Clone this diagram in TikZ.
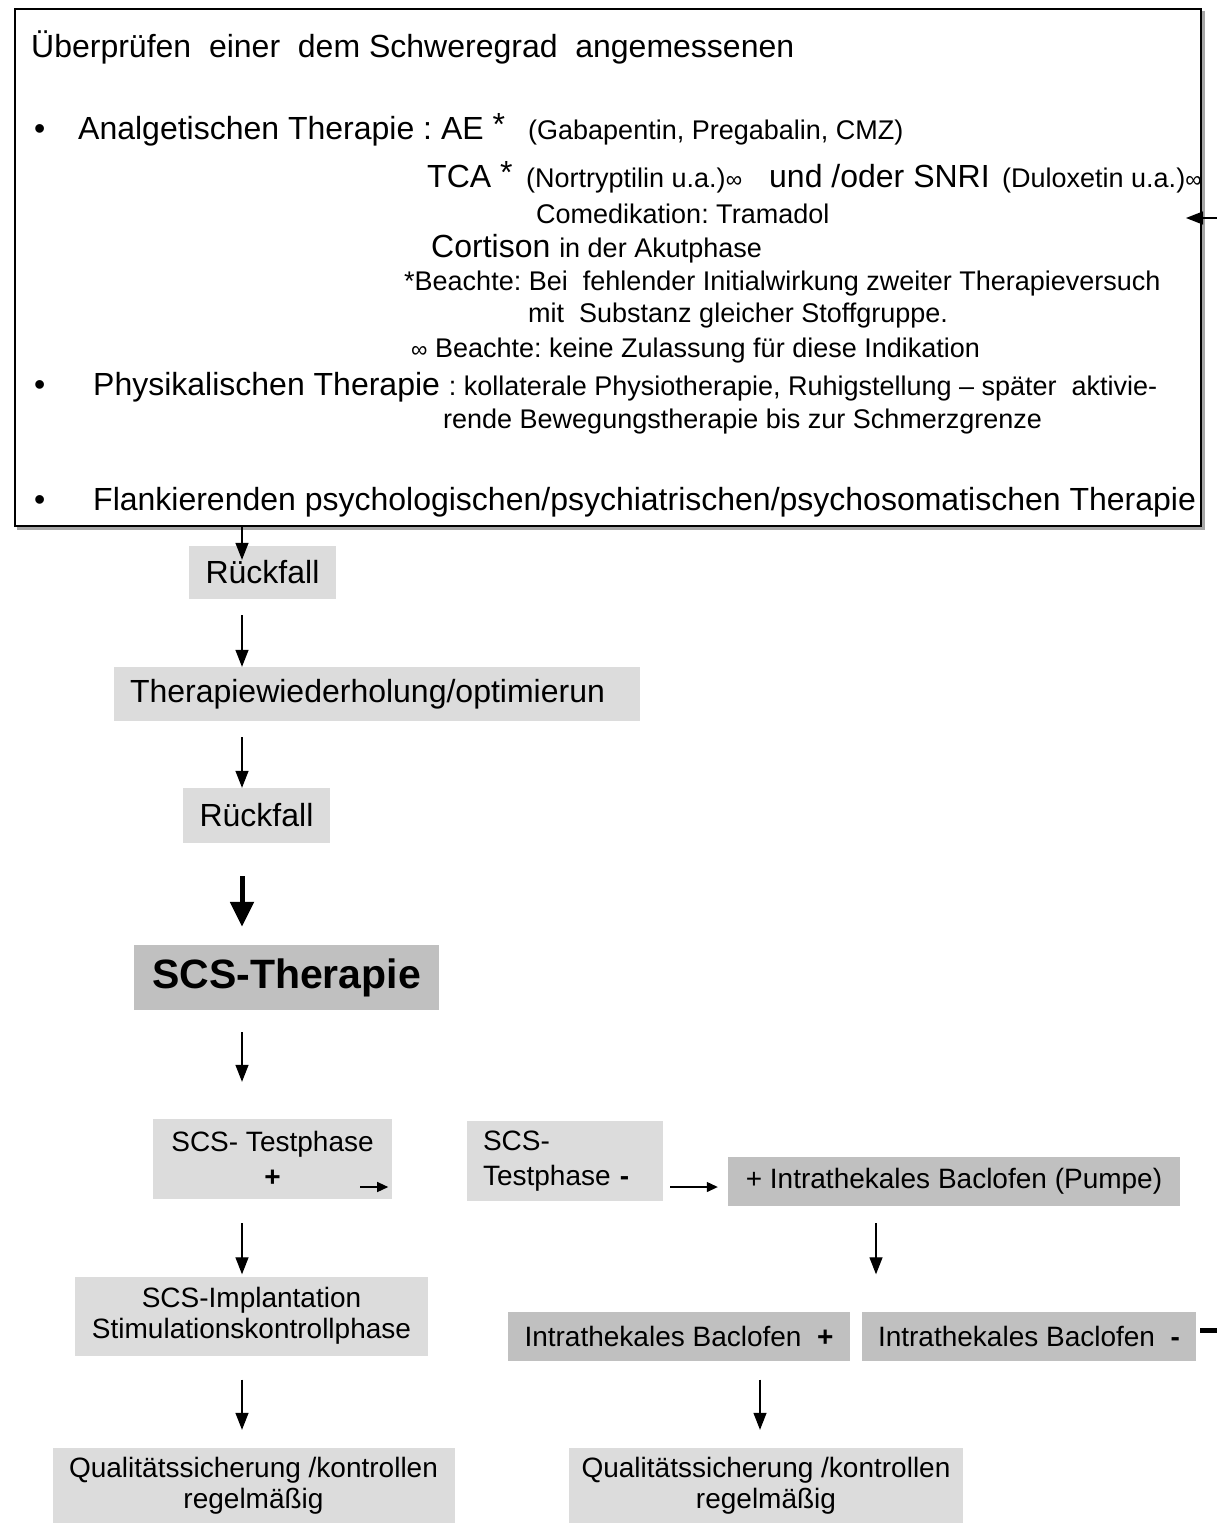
\documentclass[tikz,border=0pt]{standalone}
\usepackage{fontspec}
\setmainfont{Liberation Sans}
\usetikzlibrary{arrows.meta,calc}
\definecolor{boxlight}{HTML}{DCDCDC}
\definecolor{boxdark}{HTML}{C0C0C0}
\newcommand{\bigfs}{\fontsize{32}{38}\selectfont}
\newcommand{\smallfs}{\fontsize{27}{32}\selectfont}
\newcommand{\boxfs}{\fontsize{28}{31}\selectfont}
\newcommand{\infsym}{{\fontsize{23}{23}\selectfont ∞}}
\frenchspacing

\begin{document}
\begin{tikzpicture}[x=1pt,y=-1pt,
  every node/.style={inner sep=0pt},
  big/.style={anchor=base west,font=\bigfs},
  small/.style={anchor=base west,font=\smallfs},
  light/.style={fill=boxlight,align=center,font=\boxfs},
  dark/.style={light,fill=boxdark},
  arr/.style={line width=1.3pt,-{Triangle[length=17pt,width=13pt]}},
  fatarr/.style={line width=5pt,-{Triangle[length=25pt,width=23pt]}},
  smallarr/.style={line width=1.3pt,-{Triangle[length=11pt,width=10pt]}}]
\useasboundingbox (0,0) rectangle (1217,1524);

\draw[line width=3pt, gray!70] (17,528) -- (1203,528) -- (1203,11);
\node[draw, line width=1.5pt, minimum width=1186pt, minimum height=517pt, anchor=north west] (ueber) at (14,8) {};

\node[big] (head) at (31,57) {Überprüfen~ einer~ dem Schweregrad~ angemessenen};
\node[big] (dot1) at (34,139) {•};
\node[big] (ana) at (78,139) {Analgetischen Therapie : AE \raisebox{4pt}{*}};
\node[small] (gaba) at (528,139) {(Gabapentin, Pregabalin, CMZ)};
\node[big] (tca) at (427,187) {TCA \raisebox{4pt}{*}};
\node[small] (nort) at (526,187) {(Nortryptilin u.a.)\infsym};
\node[big] (snri) at (769,187) {und /oder SNRI};
\node[small] (dulo) at (1002,187) {(Duloxetin u.a.)\infsym};
\node[small] (come) at (536,223) {Comedikation: Tramadol};
\node[big] (cort) at (431,257) {Cortison {\smallfs in der Akutphase}};
\node[small] (bea1) at (404,290) {*Beachte: Bei~ fehlender Initialwirkung zweiter Therapieversuch};
\node[small] (bea2) at (528,322) {mit~ Substanz gleicher Stoffgruppe.};
\node[small] (bea3) at (411,357) {\infsym{} Beachte: keine Zulassung für diese Indikation};
\node[big] (dot2) at (34,395) {•};
\node[big] (phys) at (93,395) {Physikalischen Therapie {\smallfs: kollaterale Physiotherapie, Ruhigstellung – später~ aktivie-}};
\node[small] (phys2) at (443,428) {rende Bewegungstherapie bis zur Schmerzgrenze};
\node[big] (dot3) at (34,510) {•};
\node[big] (flank) at (93,510) {Flankierenden psychologischen/psychiatrischen/psychosomatischen Therapie};

\coordinate (edge) at (1217,218);
\coordinate (comein) at (1186,218);
\draw[arr] (edge) -- (comein);

\node[light, minimum width=147pt, minimum height=53pt, font=\bigfs] (r1) at (262.5,572.5) {Rückfall};
\node[light, minimum height=54pt, text width=494pt, inner xsep=16pt, align=left, font=\bigfs] (tw) at (377,694) {Therapiewiederholung/optimierun};
\node[light, minimum width=147pt, minimum height=55pt, font=\bigfs] (r2) at (256.5,815.5) {Rückfall};
\node[dark, minimum width=305pt, minimum height=65pt, font=\fontsize{41}{48}\selectfont\bfseries] (scs) at (286.5,977.5) {SCS-Therapie};
\node[light, minimum width=239pt, minimum height=80pt, font=\fontsize{28}{35}\selectfont] (tp) at (272.5,1159) {SCS- Testphase\\\textbf{+}};
\node[light, minimum height=80pt, text width=164pt, inner xsep=16pt, align=left, font=\fontsize{28}{35}\selectfont] (tm) at (565,1161) {SCS-\\Testphase \textbf{-}};
\node[dark, minimum width=452pt, minimum height=49pt] (ib) at (954,1181.5) {+ Intrathekales Baclofen (Pumpe)};
\node[light, minimum width=353pt, minimum height=79pt] (si) at (251.5,1316) {SCS-Implantation\\Stimulationskontrollphase};
\node[dark, minimum width=342pt, minimum height=49pt] (ip) at (679,1336) {Intrathekales Baclofen~ \textbf{+}};
\node[dark, minimum width=334pt, minimum height=49pt] (im) at (1029,1336) {Intrathekales Baclofen~ \textbf{-}};
\node[light, minimum width=402pt, minimum height=75pt] (q1) at (253.5,1485.5) {Qualitätssicherung /kontrollen\\regelmäßig};
\node[light, minimum width=394pt, minimum height=75pt] (q2) at (766,1485.5) {Qualitätssicherung /kontrollen\\regelmäßig};

\coordinate (colL) at (242,0);
\coordinate (colM) at (760,0);
\coordinate (colR) at (876,0);
\coordinate (rowA) at (0,1187);
\coordinate (tpA) at (360,1187);
\coordinate (stub) at (1217,1330);

\draw[arr, shorten >=-14pt] (ueber.south -| colL) -- (r1.north -| colL);
\draw[arr, shorten <=16pt] (r1.south -| colL) -- (tw.north -| colL);
\draw[arr, shorten <=16pt] (tw.south -| colL) -- (r2.north -| colL);
\draw[fatarr, shorten <=33pt, shorten >=18pt] (r2.south -| colL) -- (scs.north -| colL);
\draw[arr, shorten <=22pt, shorten >=37pt] (scs.south -| colL) -- (tp.north -| colL);
\draw[arr, shorten <=24pt, shorten >=2pt] (tp.south -| colL) -- (si.north -| colL);
\draw[arr, shorten <=24pt, shorten >=18pt] (si.south -| colL) -- (q1.north -| colL);
\draw[arr, shorten <=17pt, shorten >=37pt] (ib.south -| colR) -- (im.north -| colR);
\draw[arr, shorten <=19pt, shorten >=18pt] (ip.south -| colM) -- (q2.north -| colM);
\draw[smallarr, shorten >=4pt] (tpA) -- (tpA -| tp.east);
\draw[smallarr, shorten <=7pt, shorten >=10pt] (tm.east |- rowA) -- (ib.west |- rowA);
\draw[line width=5pt, shorten <=4pt] (stub -| im.east) -- (stub);
\end{tikzpicture}
\end{document}
